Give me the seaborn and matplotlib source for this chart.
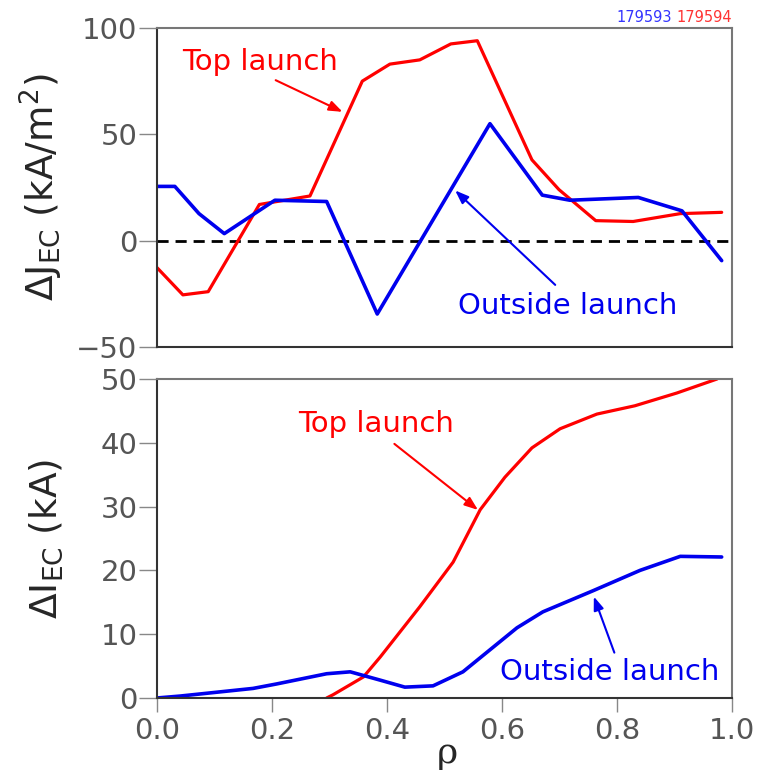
import matplotlib
matplotlib.use("Agg")
import matplotlib.pyplot as plt
import seaborn as sns
import pandas as pd

# Top panel: current density change (kA/m^2)
rho_j_top = [0.0, 0.045, 0.089, 0.178, 0.266, 0.357, 0.405, 0.457, 0.511, 0.557,
             0.652, 0.699, 0.763, 0.828, 0.910, 0.982]
dj_top = [-12.7, -25.5, -24.0, 17.0, 21.0, 75.0, 83.0, 85.0, 92.5, 94.0,
          38.0, 24.0, 9.4, 9.0, 12.7, 13.3]
rho_j_out = [0.0, 0.031, 0.073, 0.117, 0.205, 0.295, 0.383, 0.579, 0.670, 0.718,
             0.837, 0.913, 0.982]
dj_out = [25.5, 25.5, 12.7, 3.3, 19.0, 18.4, -34.5, 55.0, 21.4, 19.0,
          20.3, 14.0, -9.4]

# Bottom panel: integrated current change (kA)
rho_i_top = [0.295, 0.306, 0.359, 0.388, 0.457, 0.515, 0.562, 0.605, 0.652, 0.701,
             0.765, 0.831, 0.904, 0.974]
di_top = [0.0, 0.5, 3.3, 6.4, 14.3, 21.3, 29.5, 34.6, 39.2, 42.2,
          44.5, 45.8, 47.8, 50.0]
rho_i_out = [0.0, 0.040, 0.167, 0.208, 0.295, 0.336, 0.388, 0.431, 0.480, 0.532,
             0.626, 0.671, 0.758, 0.840, 0.910, 0.982]
di_out = [0.0, 0.3, 1.5, 2.2, 3.8, 4.1, 2.8, 1.7, 1.9, 4.1,
          11.0, 13.5, 16.8, 20.0, 22.2, 22.1]

yticks_top = [-50, 0, 50, 100]
yticks_bot = [0, 10, 20, 30, 40, 50]
xticks = [0.0, 0.2, 0.4, 0.6, 0.8, 1.0]

RED = "#ff0000"
BLUE = "#0000ee"
GRAY = "#555555"

sns.set_style("ticks")
plt.rcParams["font.family"] = ["DejaVu Sans"]

fig = plt.figure(figsize=(7.6, 7.79), dpi=100)
ax1 = fig.add_axes([0.2066, 0.5546, 0.7566, 0.4095])
ax2 = fig.add_axes([0.2066, 0.1040, 0.7566, 0.4095])

df_jt = pd.DataFrame({"rho": rho_j_top, "val": dj_top})
df_jo = pd.DataFrame({"rho": rho_j_out, "val": dj_out})
df_it = pd.DataFrame({"rho": rho_i_top, "val": di_top})
df_io = pd.DataFrame({"rho": rho_i_out, "val": di_out})

ax1.axhline(0, color="black", lw=2, ls=(0, (4, 2.5)), zorder=1)
sns.lineplot(data=df_jt, x="rho", y="val", ax=ax1, color=RED, lw=2.3, sort=False)
sns.lineplot(data=df_jo, x="rho", y="val", ax=ax1, color=BLUE, lw=2.6, sort=False)
sns.lineplot(data=df_it, x="rho", y="val", ax=ax2, color=RED, lw=2.3, sort=False)
sns.lineplot(data=df_io, x="rho", y="val", ax=ax2, color=BLUE, lw=2.6, sort=False)

ax1.set_xlim(0, 1)
ax1.set_ylim(-50, 100)
ax1.set_yticks(yticks_top)
ax1.set_yticklabels(["\u221250", "0", "50", "100"])
ax1.set_xticks([])
ax2.set_xlim(0, 1)
ax2.set_ylim(0, 50)
ax2.set_yticks(yticks_bot)
ax2.set_xticks(xticks)
ax2.set_xticklabels([f"{t:.1f}" for t in xticks])

for ax in (ax1, ax2):
    ax.tick_params(axis="y", length=13, width=1, color="#888888",
                   labelsize=21, labelcolor=GRAY, pad=1)
    ax.tick_params(axis="x", length=10, width=1, color="#888888",
                   labelsize=21, labelcolor=GRAY, pad=4)
    ax.spines["left"].set_color("#333333")
    ax.spines["bottom"].set_color("#333333")
    ax.spines["top"].set_color("#777777")
    ax.spines["right"].set_color("#777777")
    for s in ax.spines.values():
        s.set_linewidth(1.5)

ax1.set_xlabel("")
ax1.set_ylabel("Δ$\\mathregular{J_{EC}}$ (kA/m$\\mathregular{^2}$)", fontsize=27)
ax1.yaxis.set_label_coords(-0.16, 0.5)
ax2.set_ylabel("Δ$\\mathregular{I_{EC}}$ (kA)", fontsize=27)
ax2.yaxis.set_label_coords(-0.16, 0.5)
ax2.set_xlabel("ρ", fontsize=26, family="DejaVu Serif")
ax2.xaxis.set_label_coords(0.505, -0.12)

arrow = "-|>,head_length=0.8,head_width=0.3"

# annotations, top panel
ax1.annotate("", xy=(0.327, 60), xytext=(0.202, 76),
             arrowprops=dict(arrowstyle=arrow, color=RED, lw=1.5))
ax1.text(0.043, 84, "Top launch", color=RED, fontsize=21, va="center", ha="left")
ax1.annotate("", xy=(0.515, 24.5), xytext=(0.696, -21.7),
             arrowprops=dict(arrowstyle=arrow, color=BLUE, lw=1.5))
ax1.text(0.523, -30.7, "Outside launch", color=BLUE, fontsize=21, va="center", ha="left")

# annotations, bottom panel
ax2.annotate("", xy=(0.562, 29.2), xytext=(0.409, 40.1),
             arrowprops=dict(arrowstyle=arrow, color=RED, lw=1.5))
ax2.text(0.245, 43, "Top launch", color=RED, fontsize=21, va="center", ha="left")
ax2.annotate("", xy=(0.758, 16.3), xytext=(0.797, 6.7),
             arrowprops=dict(arrowstyle=arrow, color=BLUE, lw=1.5))
ax2.text(0.597, 4.1, "Outside launch", color=BLUE, fontsize=21, va="center", ha="left")

# shot numbers
ax1.text(0.896, 1.01, "179593", color="#3333ff", fontsize=10.5, ha="right", va="bottom",
         transform=ax1.transAxes)
ax1.text(1.0, 1.01, "179594", color="#ff3333", fontsize=10.5, ha="right", va="bottom",
         transform=ax1.transAxes)

fig.savefig("out.png", dpi=100)
